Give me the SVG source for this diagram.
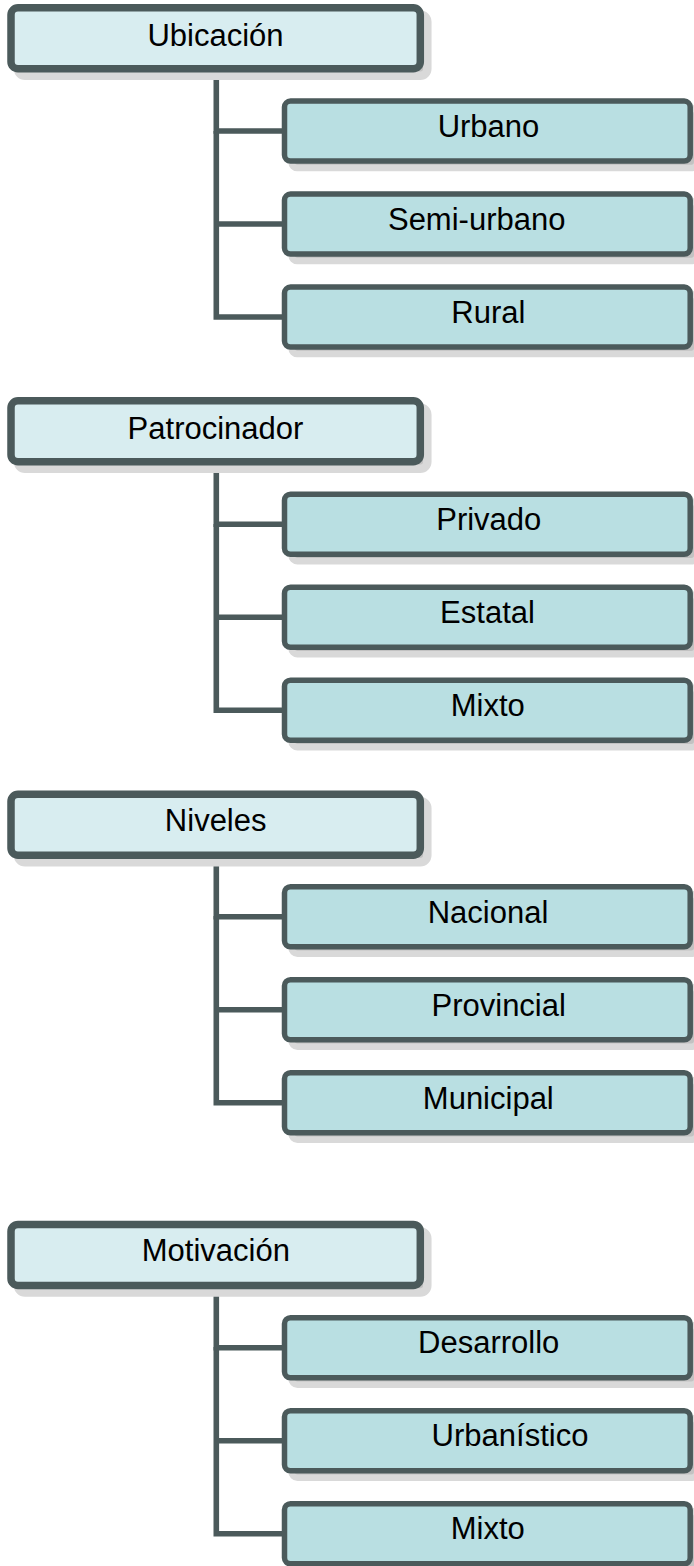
<svg xmlns="http://www.w3.org/2000/svg" width="694" height="1566" viewBox="0 0 694 1566">
<defs>
<style>
.psh{fill:#c2c2c2;stroke:#d9d9d9;stroke-width:8.5}
.csh{fill:#c2c2c2;stroke:#d9d9d9;stroke-width:6.5}
.par{fill:#d8edf0;stroke:#4b5a5b;stroke-width:7.5}
.chi{fill:#b9dfe2;stroke:#4b5a5b;stroke-width:5.5}
.conn{fill:none;stroke:#4b5a5b;stroke-width:5.6;stroke-linejoin:miter;stroke-linecap:butt}
text{font-family:"Liberation Sans",Arial,sans-serif;font-size:31px;fill:#000;text-anchor:middle}
</style>
</defs>
<rect width="694" height="1566" fill="#ffffff"/>

<g id="connectors">
<path class="conn" d="M216.3 72 V131 H284"/>
<path class="conn" d="M216.3 224 H284"/>
<path class="conn" d="M216.3 131 V317 H284"/>
<path class="conn" d="M216.3 465 V524.2 H284"/>
<path class="conn" d="M216.3 617.2 H284"/>
<path class="conn" d="M216.3 524 V710.2 H284"/>
<path class="conn" d="M216.3 858 V916.7 H284"/>
<path class="conn" d="M216.3 1009.7 H284"/>
<path class="conn" d="M216.3 916 V1102.7 H284"/>
<path class="conn" d="M216.3 1288 V1347.7 H284"/>
<path class="conn" d="M216.3 1440.7 H284"/>
<path class="conn" d="M216.3 1347 V1533.7 H284"/>
</g>

<!-- Section 1 -->
<g id="ubicacion">
<rect class="psh" x="18" y="14.75" width="409.3" height="61" rx="7"/>
<rect class="par" x="11" y="7.75" width="409.3" height="61" rx="7"/>
<text x="215.5" y="45.7">Ubicación</text>
</g>
<g id="urbano">
<rect class="csh" x="291.5" y="108.1" width="405.7" height="60" rx="6"/>
<rect class="chi" x="284.5" y="101.1" width="405.7" height="60" rx="6"/>
<text x="488.5" y="136.7">Urbano</text>
</g>
<g id="semi-urbano">
<rect class="csh" x="291.5" y="201.1" width="405.7" height="60" rx="6"/>
<rect class="chi" x="284.5" y="194.1" width="405.7" height="60" rx="6"/>
<text x="476.7" y="229.7">Semi-urbano</text>
</g>
<g id="rural">
<rect class="csh" x="291.5" y="294.1" width="405.7" height="60" rx="6"/>
<rect class="chi" x="284.5" y="287.1" width="405.7" height="60" rx="6"/>
<text x="488.3" y="322.7">Rural</text>
</g>

<!-- Section 2 -->
<g id="patrocinador">
<rect class="psh" x="18" y="407.75" width="409.3" height="61" rx="7"/>
<rect class="par" x="11" y="400.75" width="409.3" height="61" rx="7"/>
<text x="215.5" y="439">Patrocinador</text>
</g>
<g id="privado">
<rect class="csh" x="291.5" y="501.3" width="405.7" height="60" rx="6"/>
<rect class="chi" x="284.5" y="494.3" width="405.7" height="60" rx="6"/>
<text x="488.8" y="529.5">Privado</text>
</g>
<g id="estatal">
<rect class="csh" x="291.5" y="594.3" width="405.7" height="60" rx="6"/>
<rect class="chi" x="284.5" y="587.3" width="405.7" height="60" rx="6"/>
<text x="487.5" y="622.5">Estatal</text>
</g>
<g id="mixto-1">
<rect class="csh" x="291.5" y="687.3" width="405.7" height="60" rx="6"/>
<rect class="chi" x="284.5" y="680.3" width="405.7" height="60" rx="6"/>
<text x="487.8" y="715.5">Mixto</text>
</g>

<!-- Section 3 -->
<g id="niveles">
<rect class="psh" x="18" y="801.25" width="409.3" height="61" rx="7"/>
<rect class="par" x="11" y="794.25" width="409.3" height="61" rx="7"/>
<text x="215.7" y="831">Niveles</text>
</g>
<g id="nacional">
<rect class="csh" x="291.5" y="893.8" width="405.7" height="60" rx="6"/>
<rect class="chi" x="284.5" y="886.8" width="405.7" height="60" rx="6"/>
<text x="488" y="922.5">Nacional</text>
</g>
<g id="provincial">
<rect class="csh" x="291.5" y="986.8" width="405.7" height="60" rx="6"/>
<rect class="chi" x="284.5" y="979.8" width="405.7" height="60" rx="6"/>
<text x="498.7" y="1015.5">Provincial</text>
</g>
<g id="municipal">
<rect class="csh" x="291.5" y="1079.8" width="405.7" height="60" rx="6"/>
<rect class="chi" x="284.5" y="1072.8" width="405.7" height="60" rx="6"/>
<text x="488.3" y="1108.5">Municipal</text>
</g>

<!-- Section 4 -->
<g id="motivacion">
<rect class="psh" x="18" y="1231.45" width="409.3" height="61" rx="7"/>
<rect class="par" x="11" y="1224.45" width="409.3" height="61" rx="7"/>
<text x="215.8" y="1261.2">Motivación</text>
</g>
<g id="desarrollo">
<rect class="csh" x="291.5" y="1324.8" width="405.7" height="60" rx="6"/>
<rect class="chi" x="284.5" y="1317.8" width="405.7" height="60" rx="6"/>
<text x="488.7" y="1353.3">Desarrollo</text>
</g>
<g id="urbanistico">
<rect class="csh" x="291.5" y="1417.8" width="405.7" height="60" rx="6"/>
<rect class="chi" x="284.5" y="1410.8" width="405.7" height="60" rx="6"/>
<text x="510" y="1446.3">Urbanístico</text>
</g>
<g id="mixto-2">
<rect class="csh" x="291.5" y="1510.8" width="405.7" height="60" rx="6"/>
<rect class="chi" x="284.5" y="1503.8" width="405.7" height="60" rx="6"/>
<text x="487.8" y="1539.3">Mixto</text>
</g>
</svg>
